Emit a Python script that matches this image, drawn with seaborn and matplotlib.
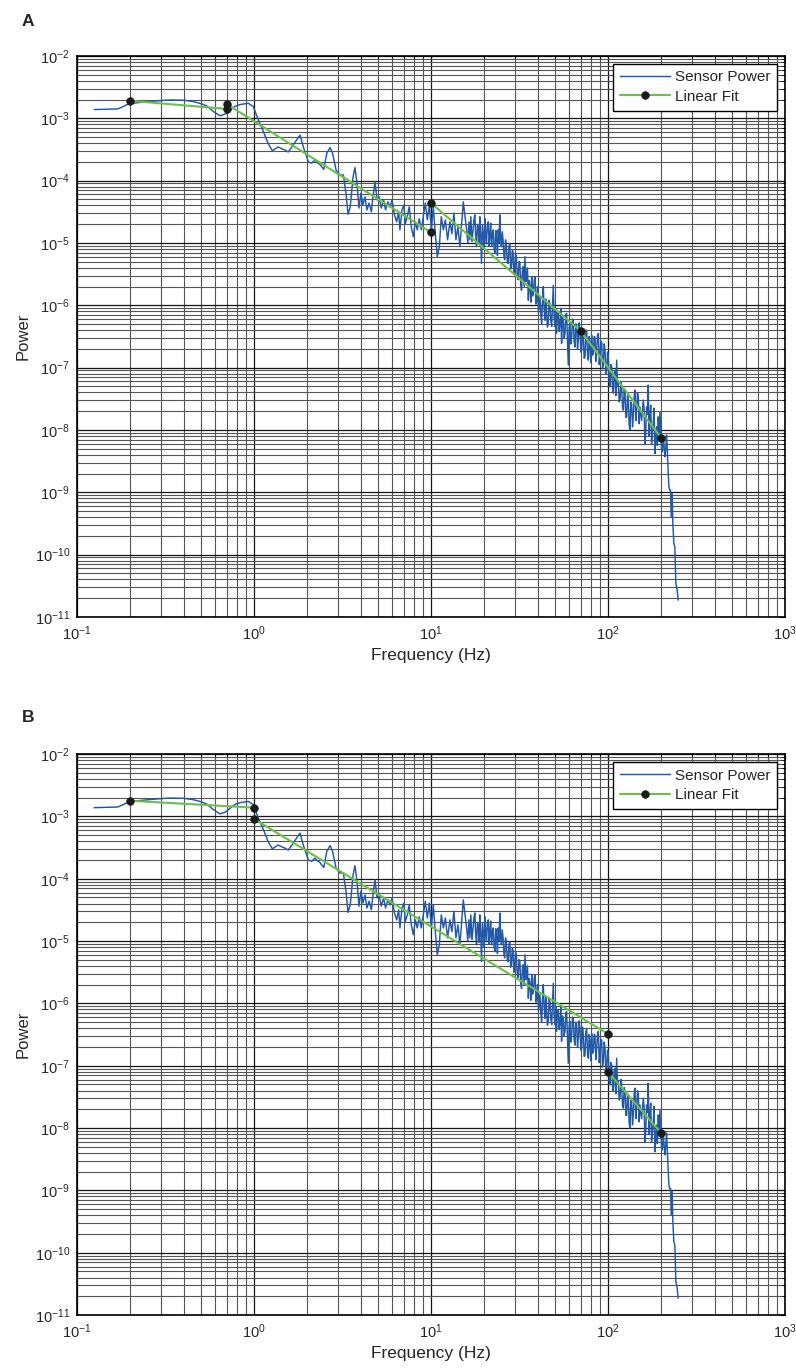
import numpy as np
import pandas as pd
import matplotlib
matplotlib.use("Agg")
import matplotlib.pyplot as plt
from matplotlib.ticker import LogLocator, FixedLocator, FuncFormatter, NullFormatter
import seaborn as sns

sns.set_style("white")
plt.rcParams['font.family'] = ['Liberation Sans', 'DejaVu Sans']
plt.rcParams['mathtext.fontset'] = 'custom'
plt.rcParams['mathtext.rm'] = 'Liberation Sans'
plt.rcParams['mathtext.it'] = 'Liberation Sans:italic'
plt.rcParams['mathtext.bf'] = 'Liberation Sans:bold'

# sensor power spectrum (same recording in both panels), log10 of power
freq_low = [0.125, 0.17, 0.18, 0.195, 0.22, 0.258, 0.30, 0.335, 0.40, 0.45, 0.495, 0.54,
            0.589, 0.643, 0.69, 0.732, 0.78, 0.834, 0.929, 0.99, 1.06, 1.13, 1.20, 1.27,
            1.32, 1.37, 1.44, 1.50, 1.56, 1.64, 1.71, 1.82, 1.90, 2.03, 2.12, 2.21, 2.30,
            2.36, 2.48, 2.58, 2.69, 2.78, 2.91, 3.06, 3.20, 3.31, 3.40, 3.50, 3.63, 3.72]
logp_low = [-2.86, -2.85, -2.82, -2.77, -2.75, -2.73, -2.715, -2.706, -2.71, -2.73, -2.76, -2.80,
            -2.89, -2.96, -2.93, -2.87, -2.81, -2.78, -2.76, -2.81, -3.03, -3.21, -3.40, -3.52,
            -3.49, -3.46, -3.49, -3.51, -3.54, -3.46, -3.38, -3.27, -3.46, -3.70, -3.72, -3.67, -3.72,
            -3.74, -3.82, -3.56, -3.47, -3.56, -3.83, -3.91, -3.91, -4.20, -4.54, -4.42, -3.94, -3.79]

freq_mid = [3.82, 3.92, 4.02, 4.13, 4.24, 4.35, 4.47, 4.61, 4.70, 4.83, 4.96, 5.09, 5.24, 5.40,
            5.54, 5.71, 5.88, 6.03, 6.22, 6.40, 6.57, 6.68, 6.86, 7.04, 7.16, 7.35, 7.54, 7.74,
            7.95, 8.16, 8.37, 8.59, 8.82, 9.05, 9.29, 9.54, 9.79, 10.05, 10.31, 10.58, 10.86,
            11.15, 11.44, 11.75, 12.06, 12.42, 12.80, 13.13, 13.48, 13.84, 14.20, 14.58, 14.96, 15.23]
logp_mid = [-4.04, -4.44, -4.20, -4.39, -4.26, -4.47, -4.36, -4.50, -4.26, -4.02, -4.31, -4.26, -4.44, -4.31,
            -4.47, -4.34, -4.42, -4.31, -4.55, -4.66, -4.50, -4.79, -4.47, -4.39, -4.69, -4.58, -4.42, -4.74,
            -4.90, -4.66, -4.79, -4.61, -4.79, -4.58, -4.36, -4.63, -4.39, -4.79, -4.42, -4.85, -5.22,
            -5.06, -4.58, -4.79, -4.63, -4.95, -4.66, -4.85, -4.52, -4.95, -4.74, -5.06, -4.63, -4.34]

freq_band = [15.90, 16.15, 16.4, 16.6, 16.8, 17.05, 17.3, 17.5, 17.7, 17.9, 18.1, 18.3, 18.5, 18.7,
             18.9, 19.1, 19.3, 19.55, 19.8, 20.0, 20.2, 20.4, 20.6, 20.85, 21.1, 21.3, 21.5, 21.75,
             22.0, 22.25, 22.5, 22.75, 23.0, 23.25, 23.5, 23.75, 24.0, 24.25, 24.5, 24.75, 25.0, 25.3,
             25.6, 25.85, 26.1, 26.4, 26.7, 27.0, 27.3, 27.6, 27.9, 28.2, 28.5, 28.8, 29.1, 29.4,
             29.7, 30.05, 30.4, 30.75, 31.1, 31.45, 31.8, 32.15, 32.5, 32.85, 33.2, 33.6, 34.0, 34.35,
             34.7, 35.1, 35.5, 35.9, 36.3, 36.7, 37.1, 37.5, 37.9, 38.35, 38.8, 39.2, 39.6, 40.05, 40.5]
logp_band = [-4.79, -5.00, -4.66, -4.95, -4.58, -4.98, -4.79, -4.62, -4.55, -4.90, -5.06, -4.70, -4.74, -5.02,
             -4.58, -4.85, -5.33, -4.72, -4.90, -5.10, -4.61, -4.88, -5.01, -4.70, -4.66, -5.05, -4.90, -4.68,
             -5.06, -4.85, -4.79, -5.10, -5.17, -4.80, -4.95, -5.20, -4.79, -5.00, -4.55, -4.92, -5.06, -4.82,
             -4.98, -5.22, -5.27, -4.95, -5.06, -5.30, -5.33, -5.05, -5.01, -5.42, -5.38, -5.12, -5.14, -5.50,
             -5.43, -5.18, -5.22, -5.55, -5.59, -5.30, -5.33, -5.68, -5.76, -5.45, -5.38, -5.70, -5.22, -5.62,
             -5.59, -5.40, -5.92, -5.60, -5.70, -5.95, -5.54, -5.85, -5.81, -5.60, -5.54, -5.98, -5.92, -5.70, -6.13]

freq_high = [41.3, 41.75, 42.2, 42.65, 43.1, 43.6, 44.1, 44.55, 45.0, 45.5, 46.0, 46.5, 47.0, 47.55,
             48.1, 48.6, 49.1, 49.65, 50.2, 50.75, 51.3, 51.85, 52.4, 53.0, 53.6, 54.15, 54.7, 55.3,
             55.9, 56.55, 57.2, 57.8, 58.4, 59.05, 59.7, 60.35, 61.0, 61.7, 62.4, 63.05, 63.7, 64.4,
             65.1, 65.85, 66.6, 67.3, 68.0, 68.75, 69.5, 70.3, 71.1, 71.85, 72.6, 73.4, 74.2, 75.0,
             75.8, 76.65, 77.5, 78.35, 79.2, 80.05, 80.9, 81.8, 82.7, 83.6, 84.5, 85.45, 86.4, 87.35,
             88.3, 89.25, 90.2, 91.2, 92.2, 93.2, 94.2, 95.25, 96.3, 97.35, 98.4, 99.45, 100.5, 101.6,
             102.7, 103.85, 105.0, 106.15, 107.3, 108.45, 109.6, 110.8, 112.0, 113.25, 114.5, 115.75,
             117.0, 118.3, 119.6, 120.9, 122.2, 123.55, 124.9, 126.25, 127.6, 129.0, 130.4, 131.8,
             133.2, 134.7, 136.2, 137.65, 139.1, 140.65, 142.2, 143.75, 145.3, 146.9, 148.5, 150.1, 151.7]
logp_high = [-5.86, -6.15, -6.29, -5.95, -5.70, -6.05, -6.24, -5.90, -6.08, -6.35, -6.29, -5.92, -5.97, -6.25,
             -6.34, -6.00, -5.68, -6.20, -6.34, -6.05, -6.45, -6.10, -6.13, -6.42, -6.29, -6.05, -6.61, -6.20,
             -6.24, -6.52, -6.45, -6.15, -6.13, -6.55, -6.96, -6.35, -6.29, -6.62, -6.51, -6.22, -6.24, -6.58,
             -6.67, -6.30, -6.34, -6.70, -6.56, -6.28, -6.40, -6.75, -6.72, -6.38, -6.51, -6.85, -6.83, -6.45,
             -6.40, -6.78, -6.88, -6.50, -6.61, -6.92, -6.48, -6.80, -6.77, -6.50, -6.51, -6.90, -6.72, -6.48,
             -6.45, -6.95, -6.83, -6.58, -6.59, -7.02, -6.93, -6.62, -6.72, -7.10, -7.04, -6.75, -6.83, -7.20,
             -7.31, -6.95, -6.99, -7.35, -7.41, -7.08, -7.04, -7.45, -6.88, -7.30, -7.25, -7.55,
             -7.52, -7.22, -7.31, -7.65, -7.68, -7.35, -7.41, -7.80, -7.79, -7.45, -7.52, -7.92,
             -8.00, -7.55, -7.58, -7.95, -7.79, -7.45, -7.36, -7.85, -7.68, -7.40, -7.47, -7.90, -7.63]

freq_top = [155.0, 158.3, 160.0, 161.8, 163.5, 165.3, 167.1, 168.9, 170.7, 172.6, 174.5, 176.4,
            178.3, 180.3, 182.2, 184.2, 186.2, 188.3, 190.3, 192.4, 194.5, 196.6, 198.7, 200.9,
            203.1, 205.3, 207.5, 209.8, 212.1, 214.4, 217.2, 219.1, 220.9, 223.9, 225.8, 227.7,
            230.6, 232.6, 235.7, 238.8, 241.9, 246.2, 249.4]
logp_top = [-7.85, -7.52, -7.65, -8.22, -8.05, -7.63, -7.75, -7.28, -8.10, -7.79, -7.60, -8.22,
            -8.05, -7.90, -7.65, -8.38, -8.15, -7.95, -8.25, -7.79, -8.10, -7.71, -8.05, -8.32,
            -8.35, -8.11, -8.25, -8.43, -8.30, -8.08, -8.43, -8.65, -8.91, -8.97, -8.97, -9.39,
            -9.02, -9.50, -9.82, -9.88, -10.46, -10.57, -10.73]

# piecewise linear fits (breakpoints shown as dots)
fit_a_freq = [0.2, 0.7, 0.7, 10, 10, 70, 200]
fit_a_logp = [-2.72, -2.85, -2.77, -4.83, -4.36, -6.41, -8.13]
fit_a_seg = [0, 0, 1, 1, 2, 2, 2]
fit_b_freq = [0.2, 1.0, 1.0, 100, 100, 200]
fit_b_logp = [-2.75, -2.86, -3.04, -6.49, -7.10, -8.08]
fit_b_seg = [0, 0, 1, 1, 2, 2]

x_ticks = [1e-1, 1e0, 1e1, 1e2, 1e3]
y_ticks = [1e-11, 1e-10, 1e-9, 1e-8, 1e-7, 1e-6, 1e-5, 1e-4, 1e-3, 1e-2]

sensor = pd.DataFrame({
    'freq': freq_low + freq_mid + freq_band + freq_high + freq_top,
    'power': 10.0 ** np.array(logp_low + logp_mid + logp_band + logp_high + logp_top),
}).sort_values('freq')
fits = {
    'A': pd.DataFrame({'freq': fit_a_freq, 'power': 10.0 ** np.array(fit_a_logp), 'seg': fit_a_seg}),
    'B': pd.DataFrame({'freq': fit_b_freq, 'power': 10.0 ** np.array(fit_b_logp), 'seg': fit_b_seg}),
}

blue = '#2159a8'
green = '#6cc04a'

fig = plt.figure(figsize=(7.96, 13.68), dpi=100)
positions = {'A': [0.0967, 0.5490, 0.8894, 0.4101], 'B': [0.0967, 0.0387, 0.8894, 0.4101]}
letter_y = {'A': 1 - 21 / 1368, 'B': 1 - 718 / 1368}

fmt = FuncFormatter(lambda v, p: r'$\mathregular{10^{%d}}$' % round(np.log10(v)))

for key in ['A', 'B']:
    ax = fig.add_axes(positions[key])
    ax.set_xscale('log')
    ax.set_yscale('log')
    sns.lineplot(data=sensor, x='freq', y='power', ax=ax, color=blue, lw=1.05,
                 estimator=None, sort=False, legend=False)
    sns.lineplot(data=fits[key], x='freq', y='power', units='seg', ax=ax, color=green, lw=1.5,
                 estimator=None, sort=False, legend=False, marker='o', markersize=5.5)
    for ln in ax.lines[1:]:
        ln.set_markerfacecolor('#1a1a1a')
        ln.set_markeredgecolor('#1a1a1a')
        ln.set_markeredgewidth(0.5)

    ax.set_xlim(0.1, 1000)
    ax.set_ylim(1e-11, 1e-2)
    for axis, ticks in [(ax.xaxis, x_ticks), (ax.yaxis, y_ticks)]:
        axis.set_major_locator(FixedLocator(ticks))
        axis.set_minor_locator(LogLocator(base=10, subs=np.arange(2, 10), numticks=200))
        axis.set_major_formatter(fmt)
        axis.set_minor_formatter(NullFormatter())
    ax.grid(which='major', color='#151515', lw=0.9)
    ax.grid(which='minor', color='#555555', lw=0.8)
    ax.set_axisbelow(True)
    ax.tick_params(which='both', direction='in', top=True, right=True, color='k')
    ax.tick_params(which='major', length=4, labelsize=10.5, pad=5)
    ax.tick_params(which='minor', length=2)
    for sp in ax.spines.values():
        sp.set_color('k')
        sp.set_linewidth(1.2)

    ax.set_xlabel('Frequency (Hz)', fontsize=12.5, labelpad=4)
    ax.set_ylabel('Power', fontsize=12, labelpad=3)

    leg = ax.legend(handles=[ax.lines[0], ax.lines[1]], labels=['Sensor Power', 'Linear Fit'],
                    loc='upper right', fontsize=11, frameon=True, fancybox=False,
                    edgecolor='k', framealpha=1, borderaxespad=0.5, handlelength=3.3,
                    handletextpad=0.3, borderpad=0.45, labelspacing=0.35, numpoints=1)
    leg.get_frame().set_linewidth(1.0)

    fig.text(28 / 796, letter_y[key], key, fontsize=12.5, fontweight='bold', ha='center', va='center')

fig.savefig('out.png', dpi=100)
